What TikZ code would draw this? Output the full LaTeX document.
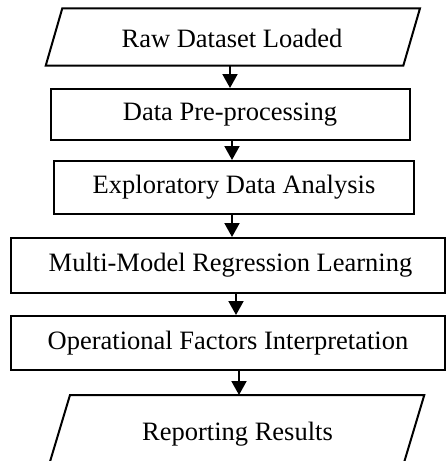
\documentclass[tikz,border=0pt]{standalone}
\usepackage{fontspec}
\setmainfont{Liberation Serif}
\usetikzlibrary{arrows.meta,calc}
\begin{document}
\begin{tikzpicture}[x=1pt,y=-1pt,
  txt/.style={inner sep=0pt,font=\fontsize{26.5}{30}\selectfont},
  box/.style={draw,line width=2pt,inner sep=0pt,font=\fontsize{26.5}{30}\selectfont},
  arr/.style={line width=2pt,-{Triangle[width=15pt,length=14pt]}},
  para/.style={draw,line width=2pt,line join=miter}]
\useasboundingbox (0,0) rectangle (446,461);
\clip (0,0) rectangle (446,461);
% top parallelogram
\coordinate (p1a) at (62.3,8.3);
\coordinate (p1b) at (420,8.3);
\coordinate (p1c) at (403.3,65.7);
\coordinate (p1d) at (45.7,65.7);
\draw[para] (p1a) -- (p1b) -- (p1c) -- (p1d) -- cycle;
\node[txt] (p1) at (232,38) {Raw Dataset Loaded};
\coordinate (p1s) at (230,65.7);
% boxes
\node[box,minimum width=359pt,minimum height=51pt] (b2) at (230,114.5) {Data Pre-processing};
\node[box,minimum width=360pt,minimum height=53pt] (b3) at (234,187.5) {Exploratory Data Analysis};
\node[box,minimum width=434pt,minimum height=55pt] (b4) at (228,265.5) {\hspace{5pt}Multi-Model Regression Learning};
\node[box,minimum width=434pt,minimum height=54pt] (b5) at (228,343) {Operational Factors Interpretation};
% bottom parallelogram (cut off by the frame)
\coordinate (p6a) at (70,395);
\coordinate (p6b) at (424.3,395);
\coordinate (p6c) at (398.8,480);
\coordinate (p6d) at (44.5,480);
\draw[para] (p6d) -- (p6a) -- (p6b) -- (p6c) -- cycle;
\node[txt] (p6) at (237.5,434) {Reporting Results};
\coordinate (p6t) at (239,395);
% arrows
\draw[arr] (p1s) -- (p1s |- b2.north);
\draw[arr] ([xshift=2pt]b2.south) -- ([xshift=2pt]b2.south |- b3.north);
\draw[arr] ([xshift=-2pt]b3.south) -- ([xshift=-2pt]b3.south |- b4.north);
\draw[arr] ([xshift=8pt]b4.south) -- ([xshift=8pt]b4.south |- b5.north);
\draw[arr] (b5.south -| p6t) -- (p6t);
\end{tikzpicture}
\end{document}
